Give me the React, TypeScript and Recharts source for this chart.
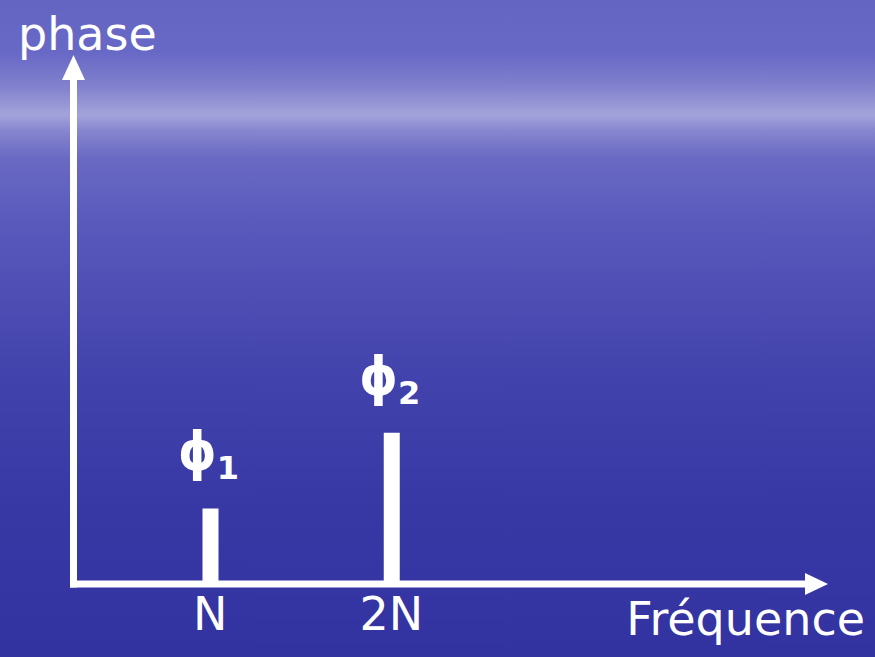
import { Bar, BarChart, LabelList, XAxis, YAxis } from "recharts";

const FONT = "'DejaVu Sans', Verdana, sans-serif";
const PHI_FONT = "'DejaVu Sans Condensed', 'DejaVu Sans', sans-serif";
const WHITE = "#FFFFFF";

// harmonics on the frequency axis and their phases (0-100 scale)
const HARMONICS = ["N", "2N"];
const PHASES = [15, 30];
const PHASE_INDEX = ["1", "2"];

const data = HARMONICS.map((h, i) => ({ h, phase: PHASES[i], idx: PHASE_INDEX[i] }));

const BG =
  "linear-gradient(180deg, #6464c3 0%, #6868c6 8%, #8080cd 13%, #a3a3da 17.5%, #8585cf 20%, #6a6ac3 24%, #5c5cbe 32%, #5050b6 42%, #4242ac 58%, #3838a5 78%, #3232a1 100%)";

function FreqTick(props: any) {
  const { x, y, payload } = props;
  return (
    <text x={x} y={y} dy={46} textAnchor="middle" fill={WHITE} fontSize={46} fontFamily={FONT}>
      {payload.value}
    </text>
  );
}

function PhiLabel(props: any) {
  const { x, y, width, value } = props;
  const cx = x + width / 2 - 2;
  return (
    <text x={cx} y={y - 29} textAnchor="middle" fill={WHITE} fontFamily={PHI_FONT} fontWeight="bold">
      <tspan fontSize={54} dy={-9}>ϕ</tspan>
      <tspan fontSize={32} dy={9} fontFamily={FONT}>{value}</tspan>
    </text>
  );
}

function PhaseTitle(props: any) {
  const vb = props.viewBox;
  return (
    <text x={vb.x + 18} y={vb.y - 30} fill={WHITE} fontSize={46} fontFamily={FONT}>
      phase
    </text>
  );
}

function FreqTitle(props: any) {
  const vb = props.viewBox;
  return (
    <text x={vb.x + vb.width + 60} y={vb.y + 51} textAnchor="end" fill={WHITE} fontSize={46} fontFamily={FONT}>
      Fréquence
    </text>
  );
}

export default function App() {
  return (
    <div style={{ position: "absolute", left: 0, top: 0, width: 875, height: 657, background: BG, overflow: "hidden" }}>
      <svg width={0} height={0} style={{ position: "absolute" }}>
        <defs>
          <marker id="arrowX" markerUnits="userSpaceOnUse" markerWidth={24} markerHeight={22} refX={0} refY={11} orient="auto" overflow="visible">
            <path d="M0,0 L23,11 L0,22 Z" fill={WHITE} />
          </marker>
          <marker id="arrowY" markerUnits="userSpaceOnUse" markerWidth={26} markerHeight={24} refX={0} refY={11.5} orient="auto-start-reverse" overflow="visible">
            <path d="M0,0 L25,11.5 L0,23 Z" fill={WHITE} />
          </marker>
        </defs>
      </svg>
      <BarChart width={875} height={657} data={data} margin={{ top: 80, right: 70, bottom: 0, left: 0 }}>
        <XAxis
          dataKey="h"
          type="category"
          height={73}
          padding={{ left: 46, right: 323 }}
          tickLine={false}
          tickSize={0}
          tickMargin={0}
          tick={<FreqTick />}
          axisLine={{ stroke: WHITE, strokeWidth: 7, strokeLinecap: "square", markerEnd: "url(#arrowX)" }}
          label={<FreqTitle />}
        />
        <YAxis
          type="number"
          domain={[0, 100]}
          width={73.5}
          tick={false}
          tickLine={false}
          axisLine={{ stroke: WHITE, strokeWidth: 7, strokeLinecap: "square", markerStart: "url(#arrowY)" }}
          label={<PhaseTitle />}
        />
        <Bar dataKey="phase" fill={WHITE} barSize={16} isAnimationActive={false}>
          <LabelList dataKey="idx" content={<PhiLabel />} />
        </Bar>
      </BarChart>
    </div>
  );
}
